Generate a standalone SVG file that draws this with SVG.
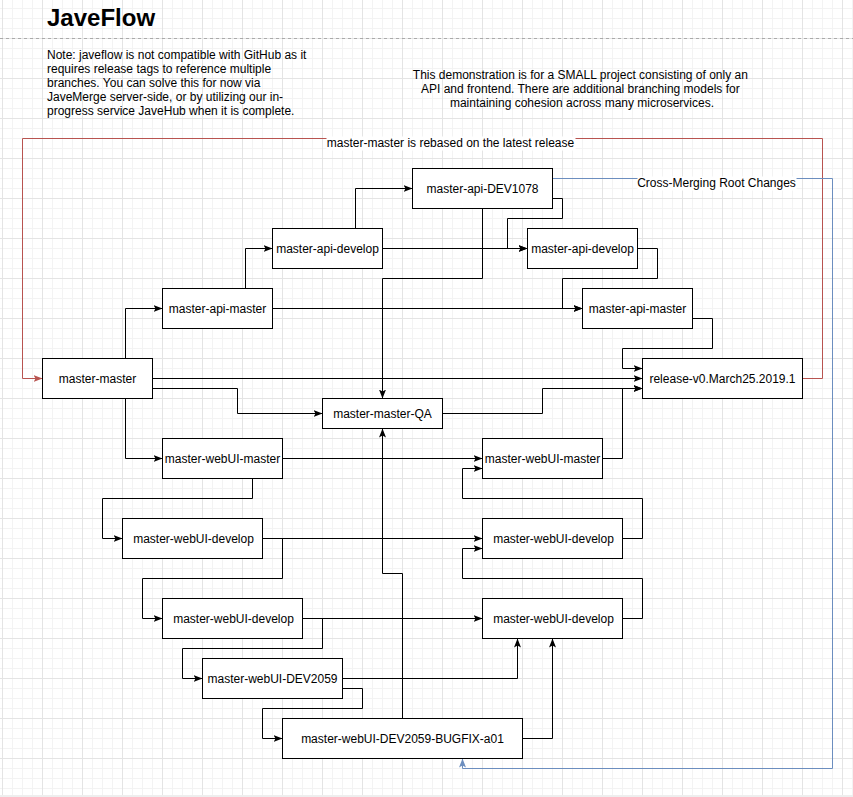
<svg xmlns="http://www.w3.org/2000/svg" width="853" height="797" viewBox="0 0 853 797">
<style>
.box{fill:#ffffff;stroke:#000000;stroke-width:1}
.lbl{font-family:"Liberation Sans",Arial,sans-serif;font-size:12px;fill:#000000;text-anchor:middle}
.note{font-family:"Liberation Sans",Arial,sans-serif;font-size:12px;fill:#000000}
.edge{fill:none;stroke:#000000;stroke-width:1;marker-end:url(#arr)}
.red{fill:none;stroke:#b85450;stroke-width:1;marker-end:url(#arrR)}
.blue{fill:none;stroke:#6c8ebf;stroke-width:1;marker-end:url(#arrB)}
</style>
<defs>
<pattern id="grid" width="40" height="40" patternUnits="userSpaceOnUse" x="2" y="-2">
<path d="M10.5,0V40M20.5,0V40M30.5,0V40M0,10.5H40M0,20.5H40M0,30.5H40" stroke="#f3f3f3" stroke-width="1" fill="none"/>
<path d="M0.5,0V40M0,0.5H40" stroke="#e4e4e4" stroke-width="1" fill="none"/>
</pattern>
<marker id="arr" markerUnits="userSpaceOnUse" markerWidth="9" markerHeight="8" viewBox="0 0 9 8" refX="9" refY="4" orient="auto">
<path d="M0,0.5 L9,4 L0,7.5 L2,4 Z" fill="#000000"/>
</marker>
<marker id="arrR" markerUnits="userSpaceOnUse" markerWidth="9" markerHeight="8" viewBox="0 0 9 8" refX="9" refY="4" orient="auto">
<path d="M0,0.5 L9,4 L0,7.5 L2,4 Z" fill="#b85450"/>
</marker>
<marker id="arrB" markerUnits="userSpaceOnUse" markerWidth="9" markerHeight="8" viewBox="0 0 9 8" refX="9" refY="4" orient="auto">
<path d="M0,0.5 L9,4 L0,7.5 L2,4 Z" fill="#6c8ebf"/>
</marker>
</defs>
<rect x="0" y="0" width="853" height="797" fill="#ffffff"/>
<rect x="0" y="0" width="853" height="797" fill="url(#grid)"/>
<rect x="0" y="795" width="853" height="2" fill="#eeeeee"/>

<g id="header">
<text x="47" y="26" font-family="'Liberation Sans',Arial,sans-serif" font-size="24" font-weight="bold" fill="#000000">JaveFlow</text>
<line x1="0" y1="38.5" x2="853" y2="38.5" stroke="#aaaaaa" stroke-width="1" stroke-dasharray="3 3"/>
<text class="note">
<tspan x="47" y="58.5">Note: javeflow is not compatible with GitHub as it</tspan>
<tspan x="47" y="72.5">requires release tags to reference multiple</tspan>
<tspan x="47" y="86.5">branches. You can solve this for now via</tspan>
<tspan x="47" y="100.5">JaveMerge server-side, or by utilizing our in-</tspan>
<tspan x="47" y="114.5">progress service JaveHub when it is complete.</tspan>
</text>
<text class="lbl">
<tspan x="582" y="79">This demonstration is for a SMALL project consisting of only an</tspan>
<tspan x="582" y="93">API and frontend. There are additional branching models for</tspan>
<tspan x="582" y="107">maintaining cohesion across many microservices.</tspan>
</text>
</g>

<g id="connectors" transform="translate(0.5,0.5)">
<path class="edge" d="M125,358V308H162"/>
<path class="edge" d="M125,398V458H162"/>
<path class="edge" d="M152,378H642"/>
<path class="edge" d="M152,388H237V413H322"/>
<path class="edge" d="M245,288V248H272"/>
<path class="edge" d="M272,308H582"/>
<path class="edge" d="M355,228V188H412"/>
<path class="edge" d="M382,248H527"/>
<path class="edge" d="M482,208V278H382V398"/>
<path class="edge" d="M552,198H562V218H507V248H527"/>
<path class="edge" d="M637,248H657V278H562V308H582"/>
<path class="edge" d="M692,318H712V348H622V368H642"/>
<path class="edge" d="M442,413H542V388H642"/>
<path class="edge" d="M602,458H622V388H642"/>
<path class="edge" d="M282,458H482"/>
<path class="edge" d="M252,478V498H102V538H122"/>
<path class="edge" d="M262,538H482"/>
<path class="edge" d="M262,538H282V578H142V618H162"/>
<path class="edge" d="M622,538H642V498H462V468H482"/>
<path class="edge" d="M302,618H482"/>
<path class="edge" d="M302,618H322V648H182V678H202"/>
<path class="edge" d="M622,618H642V578H462V548H482"/>
<path class="edge" d="M342,678H517V638"/>
<path class="edge" d="M342,688H362V708H262V738H282"/>
<path class="edge" d="M522,738H552V638"/>
<path class="edge" d="M402,718V573H382V428"/>
<path class="red" d="M802,378H822V138H22V378H42"/>
<path class="blue" d="M552,178H832V768H462V758"/>
<rect x="326" y="136" width="249" height="14" fill="#ffffff"/>
<text class="lbl" x="450" y="146.5">master-master is rebased on the latest release</text>
<rect x="637" y="176" width="159" height="14" fill="#ffffff"/>
<text class="lbl" x="716" y="186.5">Cross-Merging Root Changes</text>
</g>

<g transform="translate(0.5,0.5)">
<g id="node-master-master"><rect class="box" x="42" y="358" width="110" height="40"/><text class="lbl" x="97" y="382">master-master</text></g>
<g id="node-api-master-1"><rect class="box" x="162" y="288" width="110" height="40"/><text class="lbl" x="217" y="312">master-api-master</text></g>
<g id="node-api-develop-1"><rect class="box" x="272" y="228" width="110" height="40"/><text class="lbl" x="327" y="252">master-api-develop</text></g>
<g id="node-api-dev1078"><rect class="box" x="412" y="168" width="140" height="40"/><text class="lbl" x="482" y="192">master-api-DEV1078</text></g>
<g id="node-api-develop-2"><rect class="box" x="527" y="228" width="110" height="40"/><text class="lbl" x="582" y="252">master-api-develop</text></g>
<g id="node-api-master-2"><rect class="box" x="582" y="288" width="110" height="40"/><text class="lbl" x="637" y="312">master-api-master</text></g>
<g id="node-release"><rect class="box" x="642" y="358" width="160" height="40"/><text class="lbl" x="722" y="382">release-v0.March25.2019.1</text></g>
<g id="node-master-master-qa"><rect class="box" x="322" y="398" width="120" height="30"/><text class="lbl" x="382" y="417">master-master-QA</text></g>
<g id="node-webui-master-1"><rect class="box" x="162" y="438" width="120" height="40"/><text class="lbl" x="222" y="462">master-webUI-master</text></g>
<g id="node-webui-develop-1"><rect class="box" x="122" y="518" width="140" height="40"/><text class="lbl" x="193" y="542">master-webUI-develop</text></g>
<g id="node-webui-develop-2"><rect class="box" x="162" y="598" width="140" height="40"/><text class="lbl" x="233" y="622">master-webUI-develop</text></g>
<g id="node-webui-dev2059"><rect class="box" x="202" y="658" width="140" height="40"/><text class="lbl" x="272" y="682">master-webUI-DEV2059</text></g>
<g id="node-webui-bugfix"><rect class="box" x="282" y="718" width="240" height="40"/><text class="lbl" x="402" y="742">master-webUI-DEV2059-BUGFIX-a01</text></g>
<g id="node-webui-master-2"><rect class="box" x="482" y="438" width="120" height="40"/><text class="lbl" x="542" y="462">master-webUI-master</text></g>
<g id="node-webui-develop-3"><rect class="box" x="482" y="518" width="140" height="40"/><text class="lbl" x="553" y="542">master-webUI-develop</text></g>
<g id="node-webui-develop-4"><rect class="box" x="482" y="598" width="140" height="40"/><text class="lbl" x="553" y="622">master-webUI-develop</text></g>
</g>
</svg>
